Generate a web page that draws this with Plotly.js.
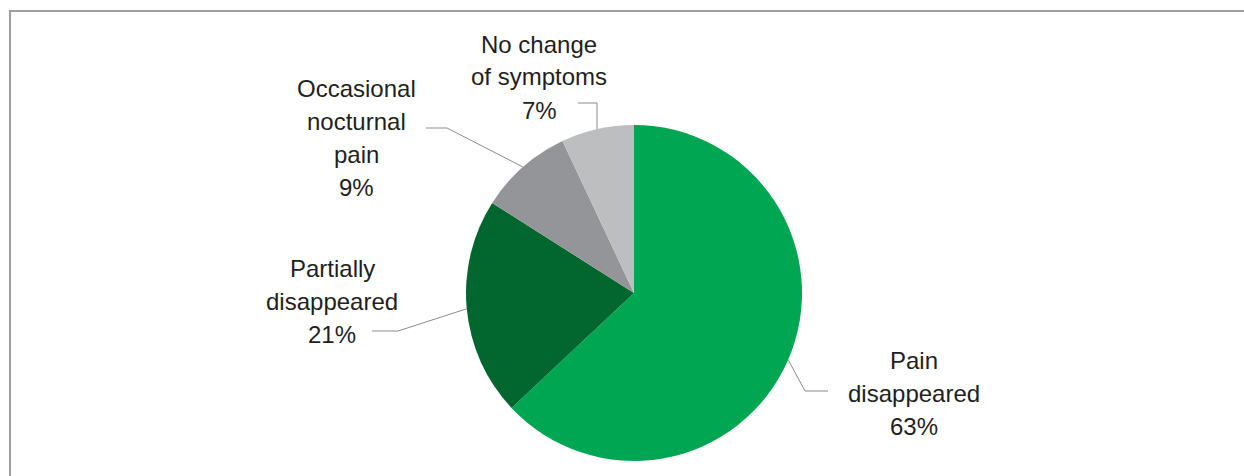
<!DOCTYPE html>
<html>
<head>
<meta charset="utf-8">
<script src="https://cdn.plot.ly/plotly-3.0.1.min.js"></script>
<style>
  html, body { margin: 0; padding: 0; background: #ffffff; }
  #chart { width: 1244px; height: 476px; }
</style>
</head>
<body>
<div id="chart"></div>
<script>
// Outcome shares after treatment (percent of patients)
const categories = ['Pain disappeared', 'Partially disappeared', 'Occasional nocturnal pain', 'No change of symptoms'];
const labelLines = [['Pain', 'disappeared'], ['Partially', 'disappeared'], ['Occasional', 'nocturnal', 'pain'], ['No change', 'of symptoms']];
const values = [63, 21, 9, 7];
const colors = ['#00a651', '#02662f', '#939598', '#bcbec0'];

const W = 1244, H = 476;
const px = x => x / W;
const py = y => 1 - y / H;

// Pie geometry in pixels
const CX = 634, CY = 293, R = 168;
const LINE_PITCH = 33;

// Label block centre and leader elbow for each slice (pixels)
const labelPos = [
  { x: 914, y: 393, elbow: [805, 391], end: [828, 391] },
  { x: 332, y: 301, elbow: [398, 331], end: [372, 331] },
  { x: 356, y: 138, elbow: [447, 128], end: [426, 128] },
  { x: 539, y: 77,  elbow: [597, 103], end: [578, 103] }
];

const total = values.reduce((a, b) => a + b, 0);
const annotations = [];
const shapes = [];
let cum = 0;
values.forEach((v, i) => {
  const mid = (cum + v / 2) / total;
  cum += v;
  const th = 2 * Math.PI * mid;           // clockwise from 12 o'clock
  const ax = CX + R * Math.sin(th);
  const ay = CY - R * Math.cos(th);
  const p = labelPos[i];
  const ex = (i === 3) ? p.elbow[0] : ax;  // vertical drop for the top slice
  shapes.push({
    type: 'path', xref: 'paper', yref: 'paper',
    path: `M ${px(p.end[0])} ${py(p.end[1])} L ${px(p.elbow[0])} ${py(p.elbow[1])} L ${px(ex)} ${py(ay)}`,
    line: { color: '#8c8c8c', width: 1 }
  });
  // one annotation per text line for even spacing
  const lines = labelLines[i].concat([v + '%']);
  const y0 = p.y - (lines.length - 1) * LINE_PITCH / 2;
  lines.forEach((t, k) => {
    annotations.push({
      xref: 'paper', yref: 'paper', x: px(p.x), y: py(y0 + k * LINE_PITCH),
      xanchor: 'center', yanchor: 'middle', showarrow: false, align: 'center',
      text: t,
      font: { family: 'Liberation Sans, Arial, sans-serif', size: 24, color: '#231f20' }
    });
  });
});

// Partial frame (left and top edges)
shapes.push({ type: 'line', xref: 'paper', yref: 'paper', x0: px(10), y0: py(11), x1: px(10), y1: 0, line: { color: '#9e9e9e', width: 2 } });
shapes.push({ type: 'line', xref: 'paper', yref: 'paper', x0: px(9), y0: py(11), x1: 1, y1: py(11), line: { color: '#9e9e9e', width: 2 } });

const trace = {
  type: 'pie',
  labels: categories,
  values: values,
  sort: false,
  direction: 'clockwise',
  rotation: 0,
  textinfo: 'none',
  hoverinfo: 'label+percent',
  marker: { colors: colors, line: { width: 0 } },
  domain: { x: [px(CX - R), px(CX + R)], y: [py(CY + R), py(CY - R)] },
  showlegend: false
};

Plotly.newPlot('chart', [trace], {
  width: W, height: H,
  margin: { l: 0, r: 0, t: 0, b: 0 },
  paper_bgcolor: '#ffffff',
  showlegend: false,
  annotations: annotations,
  shapes: shapes
}, { displayModeBar: false, staticPlot: true });
</script>
</body>
</html>
